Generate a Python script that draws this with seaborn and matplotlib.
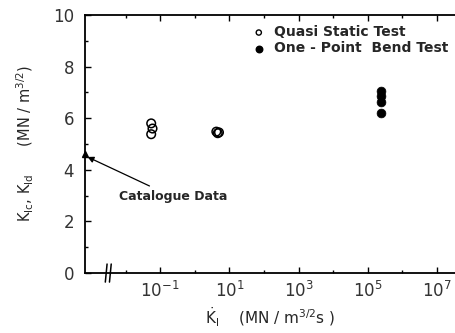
import numpy as np
import pandas as pd
import matplotlib
matplotlib.use("Agg")
import matplotlib.pyplot as plt
import matplotlib.ticker as mticker
import seaborn as sns

# Data
quasi_rate = [0.055, 0.06, 0.055, 4.2, 4.6, 5.0]
quasi_k = [5.8, 5.6, 5.38, 5.48, 5.42, 5.45]
bend_rate = [2.4e5, 2.4e5, 2.4e5, 2.4e5]
bend_k = [7.05, 6.85, 6.62, 6.2]
catalogue_k = 4.6
xtick_vals = [1e-1, 1e1, 1e3, 1e5, 1e7]
xtick_labels = [r"$10^{-1}$", r"$10^{1}$", r"$10^{3}$", r"$10^{5}$", r"$10^{7}$"]
ytick_vals = [0, 2, 4, 6, 8, 10]

sns.set_style("ticks")
plt.rcParams["font.family"] = ["DejaVu Sans"]
plt.rcParams["mathtext.fontset"] = "dejavusans"

df = pd.DataFrame({
    "rate": quasi_rate + bend_rate,
    "K": quasi_k + bend_k,
    "test": ["Quasi Static Test"] * len(quasi_rate) + ["One-Point Bend Test"] * len(bend_rate),
})

fig = plt.figure(figsize=(4.55, 3.33), dpi=100)
ax = fig.add_axes([0.187, 0.18, 0.813, 0.775])

q = df[df.test == "Quasi Static Test"]
b = df[df.test == "One-Point Bend Test"]
sns.scatterplot(data=q, x="rate", y="K", ax=ax, marker="o", s=38,
                facecolors="none", edgecolor="black", linewidth=1.1, legend=False)
sns.scatterplot(data=b, x="rate", y="K", ax=ax, marker="o", s=40,
                color="black", edgecolor="black", legend=False)

ax.set_xscale("log")
ax.set_xlim(10 ** -3.17, 10 ** 7.52)
ax.set_ylim(0, 10)

ax.set_xticks(xtick_vals)
ax.set_xticklabels(xtick_labels, fontsize=12)
ax.set_xticks([1e-2, 1e0, 1e2, 1e4, 1e6], minor=True)
ax.xaxis.set_minor_formatter(mticker.NullFormatter())
ax.set_yticks(ytick_vals)
ax.set_yticklabels([str(v) for v in ytick_vals], fontsize=12)
ax.set_yticks([1, 3, 5, 7, 9], minor=True)
ax.yaxis.set_minor_formatter(mticker.NullFormatter())
ax.tick_params(axis="both", which="major", direction="in", length=4, width=1,
               top=True, pad=6, colors="black")
ax.tick_params(axis="both", which="minor", direction="in", length=2.5, width=1,
               top=True, colors="black")
ax.tick_params(axis="x", which="major", labelcolor="#333333")
ax.tick_params(axis="y", which="major", labelcolor="#333333", pad=8)

for s in ["left", "bottom", "top"]:
    ax.spines[s].set_linewidth(1.3)
    ax.spines[s].set_color("black")
ax.spines["right"].set_visible(False)

ax.set_xlabel(r"$\dot{\mathrm{K}}_{\mathrm{I}}$    (MN / m$^{3/2}$s )", fontsize=11, labelpad=3)
ax.set_ylabel(r"$\mathrm{K}_{\mathrm{Ic}}$, $\mathrm{K}_{\mathrm{Id}}$      (MN / m$^{3/2}$)",
              fontsize=10.5, labelpad=12)

# axis break mark on the x axis
for dx in (-0.06, 0.06):
    xb = 10 ** (-2.5 + dx)
    ax.plot([xb / 1.06, xb * 1.06], [-0.35, 0.35], color="black", lw=1.1,
            clip_on=False, zorder=5)

# catalogue data marker and annotation
ax.plot([10 ** -3.17], [catalogue_k], marker="^", color="black", ms=5, clip_on=False, zorder=6)
ax.annotate("Catalogue Data", xy=(10 ** -3.1, catalogue_k - 0.1),
            xytext=(10 ** -2.2, 2.95), fontsize=9, fontweight="bold",
            ha="left", va="center",
            arrowprops=dict(arrowstyle="-|>", color="black", lw=0.9,
                            shrinkA=2, shrinkB=0, mutation_scale=9))

# legend drawn as text
ax.scatter([10 ** 1.85], [9.32], s=14, facecolors="none", edgecolors="black", linewidths=1.0)
ax.scatter([10 ** 1.85], [8.7], s=22, color="black")
ax.text(10 ** 2.3, 9.34, "Quasi Static Test", fontsize=10, fontweight="bold", va="center")
ax.text(10 ** 2.3, 8.72, "One - Point  Bend Test", fontsize=10, fontweight="bold", va="center")

fig.savefig("out.png", dpi=100)
